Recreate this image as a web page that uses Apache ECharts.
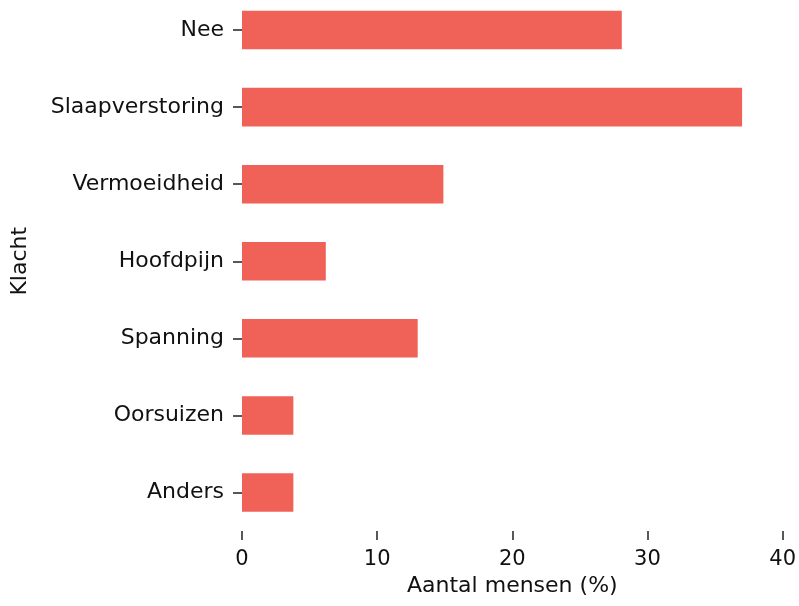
<!DOCTYPE html>
<html>
<head>
<meta charset="utf-8">
<script src="https://cdn.jsdelivr.net/npm/echarts@6/dist/echarts.min.js"></script>
<style>html,body{margin:0;padding:0;background:#fff;overflow:hidden;}#c{width:799px;height:615px;margin-top:-9px;}</style>
</head>
<body>
<div id="c"></div>
<script>
const categories = ['Nee', 'Slaapverstoring', 'Vermoeidheid', 'Hoofdpijn', 'Spanning', 'Oorsuizen', 'Anders'];
const values = [28.1, 37.0, 14.9, 6.2, 13.0, 3.8, 3.8];
const xTicks = [0, 10, 20, 30, 40];
const xTitle = 'Aantal mensen (%)';
const yTitle = 'Klacht';

const FONT = 'DejaVu Sans';
const chart = echarts.init(document.getElementById('c'), null, {renderer: 'canvas'});
chart.setOption({
  animation: false,
  backgroundColor: '#ffffff',
  textStyle: {fontFamily: FONT},
  grid: {left: 242, right: 14, top: 0.5, bottom: 75, containLabel: false},
  xAxis: {
    type: 'value',
    min: xTicks[0], max: xTicks[xTicks.length - 1], interval: 10,
    axisLine: {show: false},
    axisTick: {show: true, length: 9, lineStyle: {color: '#222', width: 1.5}},
    splitLine: {show: false},
    axisLabel: {fontFamily: FONT, fontSize: 21, color: '#111', margin: 18},
    name: xTitle, nameLocation: 'middle', nameGap: 40,
    nameTextStyle: {fontFamily: FONT, fontSize: 22, color: '#111'}
  },
  yAxis: {
    type: 'category', data: categories, inverse: true,
    axisLine: {show: false},
    axisTick: {show: true, length: 9, alignWithLabel: true, lineStyle: {color: '#222', width: 1.5}},
    axisLabel: {fontFamily: FONT, fontSize: 22, color: '#111', margin: 18},
    name: yTitle, nameLocation: 'middle', nameGap: 211, nameRotate: 90,
    nameTextStyle: {fontFamily: FONT, fontSize: 22, color: '#111'}
  },
  series: [{
    type: 'bar', data: values, barWidth: '50%',
    itemStyle: {color: '#F06158'}
  }]
});
</script>
</body>
</html>
